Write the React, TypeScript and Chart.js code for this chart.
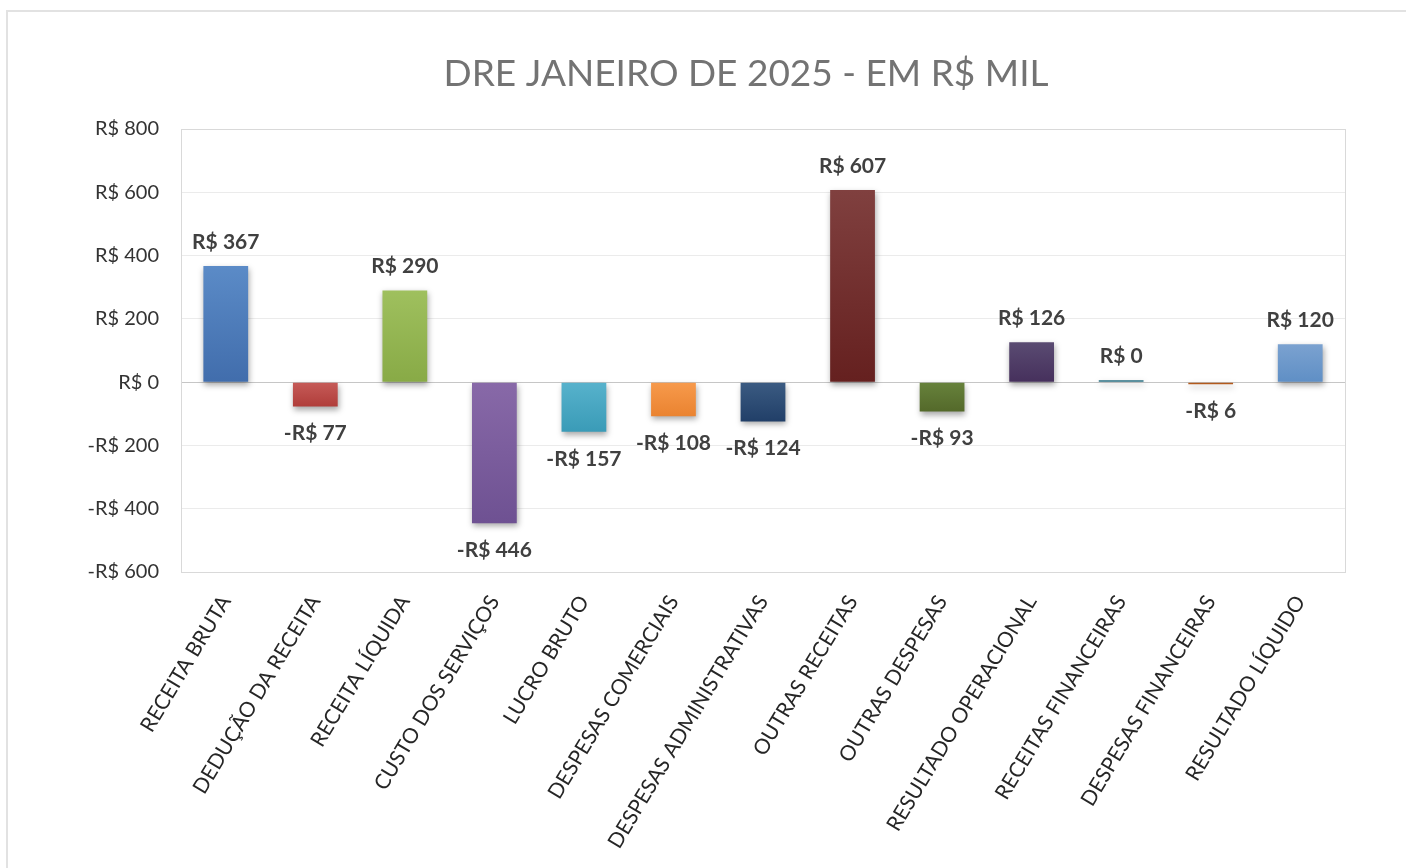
import React, { useEffect, useRef } from "react";
import { Chart, registerables } from "chart.js";

Chart.register(...registerables);

const chartTitle = "DRE JANEIRO DE 2025 - EM R$ MIL";
const categories = [
  "RECEITA BRUTA",
  "DEDUÇÃO DA RECEITA",
  "RECEITA LÍQUIDA",
  "CUSTO DOS SERVIÇOS",
  "LUCRO BRUTO",
  "DESPESAS COMERCIAIS",
  "DESPESAS ADMINISTRATIVAS",
  "OUTRAS RECEITAS",
  "OUTRAS DESPESAS",
  "RESULTADO OPERACIONAL",
  "RECEITAS FINANCEIRAS",
  "DESPESAS FINANCEIRAS",
  "RESULTADO LÍQUIDO",
];
const values = [367, -77, 290, -446, -157, -108, -124, 607, -93, 126, 0.4, -6, 120];
const barTopColors = [
  "#5b8bc7", "#c65b58", "#9fc05e", "#8869a8", "#57b2cc", "#f79a4c", "#3b5b82",
  "#80403f", "#67823c", "#5a4b72", "#3a8aa0", "#c8702e", "#7ba2d0",
];
const barBottomColors = [
  "#416dac", "#b03d3a", "#88aa46", "#6e5192", "#3a9bb7", "#ea8330", "#213f68",
  "#65201f", "#54692a", "#46305c", "#2a6f82", "#b25a1c", "#5f8fc5",
];
const yTicks = [-600, -400, -200, 0, 200, 400, 600, 800];

const fmt = (v: number) => {
  const r = Math.round(v);
  return (r < 0 ? "-R$ " : "R$ ") + Math.abs(r);
};

const FONT = "Lato, 'Open Sans', sans-serif";

export default function App() {
  const ref = useRef<HTMLCanvasElement | null>(null);

  useEffect(() => {
    if (!ref.current) return;

    const plotFrame = {
      id: "plotFrame",
      beforeDraw(chart: any) {
        const { ctx } = chart;
        ctx.save();
        ctx.font = `37px ${FONT}`;
        ctx.fillStyle = "#737373";
        ctx.textAlign = "center";
        ctx.textBaseline = "middle";
        ctx.fillText(chartTitle, 746, 74);
        ctx.restore();
      },
      beforeDatasetsDraw(chart: any) {
        const { ctx, chartArea: a } = chart;
        ctx.save();
        ctx.strokeStyle = "#d9d9d9";
        ctx.lineWidth = 1;
        ctx.strokeRect(Math.round(a.left) + 0.5, Math.round(a.top) + 0.5, Math.round(a.right - a.left), Math.round(a.bottom - a.top));
        ctx.restore();
        ctx.save();
        ctx.shadowColor = "rgba(0,0,0,0.35)";
        ctx.shadowBlur = 6;
        ctx.shadowOffsetX = 1;
        ctx.shadowOffsetY = 3;
      },
      afterDatasetsDraw(chart: any) {
        chart.ctx.restore();
        const { ctx } = chart;
        const meta = chart.getDatasetMeta(0);
        ctx.save();
        ctx.font = `bold 21px ${FONT}`;
        ctx.fillStyle = "#404040";
        ctx.textAlign = "center";
        ctx.textBaseline = "middle";
        meta.data.forEach((bar: any, i: number) => {
          const v = values[i];
          const y = v >= 0 ? Math.min(bar.y, bar.base) - 24 : Math.max(bar.y, bar.base) + 27;
          ctx.fillText(fmt(v), bar.x, y);
        });
        ctx.restore();
      },
    };

    const chart = new Chart(ref.current, {
      type: "bar",
      data: {
        labels: categories,
        datasets: [
          {
            data: values,
            minBarLength: 2,
            barPercentage: 0.5,
            categoryPercentage: 1,
            borderWidth: 0,
            backgroundColor: (c: any) => {
              const i = c.dataIndex;
              const chart = c.chart;
              const ys = chart.scales && chart.scales.y;
              if (!ys || i === undefined) return barTopColors[i || 0];
              const v = values[i];
              let p1 = ys.getPixelForValue(Math.max(v, 0));
              let p2 = ys.getPixelForValue(Math.min(v, 0));
              if (!isFinite(p1) || !isFinite(p2) || Math.abs(p2 - p1) < 3) return barBottomColors[i];
              const g = chart.ctx.createLinearGradient(0, p1, 0, p2);
              g.addColorStop(0, barTopColors[i]);
              g.addColorStop(1, barBottomColors[i]);
              return g;
            },
          },
        ],
      },
      options: {
        animation: false,
        responsive: false,
        maintainAspectRatio: false,
        layout: { padding: { left: 0, right: 61, top: 129, bottom: 0 } },
        plugins: {
          legend: { display: false },
          tooltip: { enabled: false },
          title: { display: false },
        },
        scales: {
          x: {
            grid: { display: false, drawTicks: false },
            border: { display: false },
            ticks: {
              autoSkip: false,
              minRotation: 59,
              maxRotation: 59,
              padding: 19,
              color: "#262626",
              font: { family: FONT, size: 21 },
            },
            afterFit: (s: any) => {
              s.height = 296;
            },
          },
          y: {
            min: -600,
            max: 800,
            afterBuildTicks: (s: any) => {
              s.ticks = yTicks.map((v) => ({ value: v }));
            },
            grid: {
              drawTicks: false,
              color: (c: any) => (c.tick && c.tick.value === 0 ? "#c6c6c6" : "#ebebeb"),
              lineWidth: 1,
            },
            border: { display: false },
            ticks: {
              padding: 22,
              color: "#333333",
              font: { family: FONT, size: 20 },
              callback: (v: any) => fmt(Number(v)),
            },
            afterFit: (s: any) => {
              s.width = 181;
            },
          },
        },
      },
      plugins: [plotFrame],
    });

    return () => chart.destroy();
  }, []);

  return (
    <div>
      <div
        style={{
          position: "fixed",
          left: 6,
          top: 10,
          right: 0,
          bottom: 0,
          borderLeft: "2px solid #e2e2e2",
          borderTop: "2px solid #e2e2e2",
          background: "#ffffff",
        }}
      />
      <canvas
        ref={ref}
        width={1406}
        height={868}
        style={{ position: "fixed", left: 0, top: 0, width: 1406, height: 868 }}
      />
    </div>
  );
}
